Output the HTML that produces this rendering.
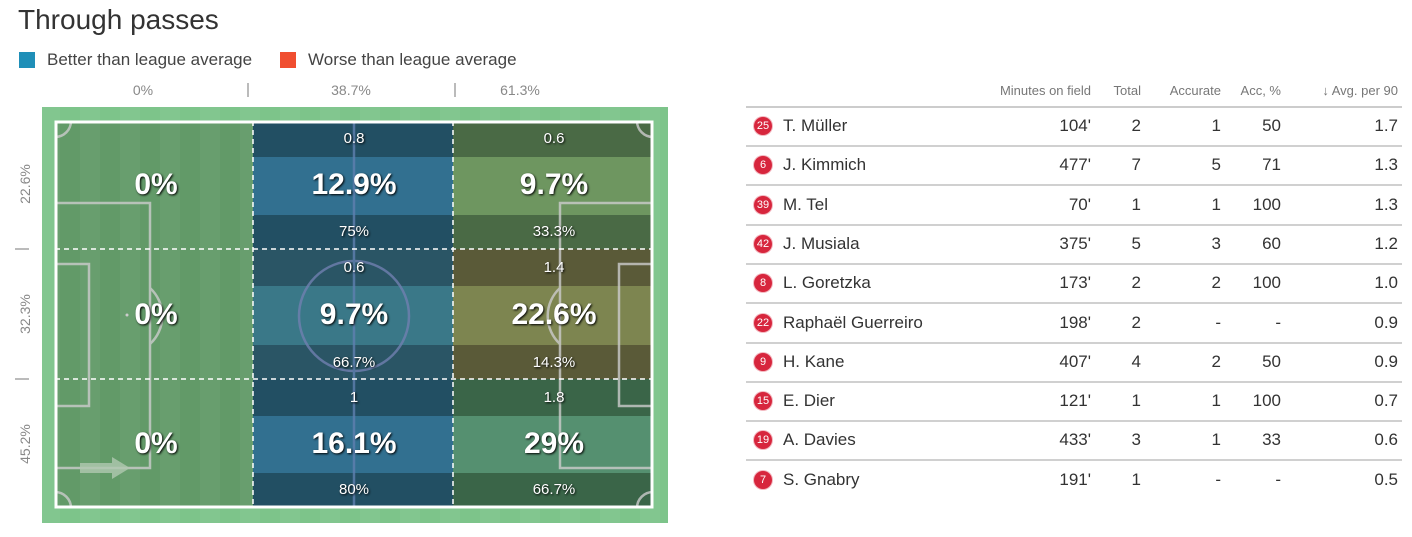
<!DOCTYPE html>
<html><head><meta charset="utf-8"><style>
body{margin:0;width:1412px;height:537px;background:#fff;font-family:"Liberation Sans",sans-serif;position:relative;overflow:hidden}
.a{position:absolute}
.n{font-family:"Liberation Sans Narrow","Liberation Sans",sans-serif}
.t{color:#fff;font-weight:bold;text-shadow:1px 1px 2px #000;text-align:center;width:200px;font-family:"Liberation Sans Narrow","Liberation Sans",sans-serif}
.hd{font-size:13px;color:#777;text-align:right;font-family:"Liberation Sans Narrow","Liberation Sans",sans-serif}
.c{font-size:17px;color:#333;text-align:right;font-family:"Liberation Sans Narrow","Liberation Sans",sans-serif}
.b{width:18px;height:18px;border-radius:50%;background:#d7263d;color:#fff;font-size:11px;text-align:center;line-height:18px;box-shadow:0 0 0 1px #f3b8c0;font-family:"Liberation Sans Narrow","Liberation Sans",sans-serif}
</style></head><body>
<div class="a" style="left:18px;top:4px;font-size:28px;color:#333">Through passes</div>
<div class="a" style="left:19px;top:52px;width:16px;height:16px;background:#1f8fb8"></div>
<div class="a" style="left:47px;top:50px;font-size:17px;color:#444">Better than league average</div>
<div class="a" style="left:280px;top:52px;width:16px;height:16px;background:#f04e30"></div>
<div class="a" style="left:308px;top:50px;font-size:17px;color:#444">Worse than league average</div>
<div class="a n" style="left:103px;top:82px;width:80px;text-align:center;font-size:14px;color:#888">0%</div>
<div class="a n" style="left:311px;top:82px;width:80px;text-align:center;font-size:14px;color:#888">38.7%</div>
<div class="a n" style="left:480px;top:82px;width:80px;text-align:center;font-size:14px;color:#888">61.3%</div>
<div class="a" style="left:247px;top:83px;width:2px;height:14px;background:#bbb"></div>
<div class="a" style="left:454px;top:83px;width:2px;height:14px;background:#bbb"></div>
<div class="a" style="left:15px;top:248px;width:14px;height:2px;background:#bbb"></div>
<div class="a" style="left:15px;top:378px;width:14px;height:2px;background:#bbb"></div>
<div class="a n" style="left:0;top:176px;width:50px;text-align:center;font-size:14px;color:#888;transform:rotate(-90deg)">22.6%</div>
<div class="a n" style="left:0;top:306px;width:50px;text-align:center;font-size:14px;color:#888;transform:rotate(-90deg)">32.3%</div>
<div class="a n" style="left:0;top:436px;width:50px;text-align:center;font-size:14px;color:#888;transform:rotate(-90deg)">45.2%</div>
<svg class="a" style="left:0;top:0" width="680" height="537">
<defs><pattern id="st" width="40" height="10" patternUnits="userSpaceOnUse"><rect width="20" height="10" fill="#fff" opacity="0.04"/></pattern></defs>
<rect x="42" y="107" width="626" height="416" fill="#7dc48a"/>
<rect x="55" y="121" width="598" height="387" fill="#629a68"/>
<rect x="42" y="107" width="626" height="416" fill="url(#st)"/>
<g>
<rect x="253" y="121" width="200" height="387" fill="#224f63"/>
<rect x="253" y="157" width="200" height="58" fill="#327090"/>
<rect x="253" y="249" width="200" height="130" fill="#2a5565"/>
<rect x="253" y="286" width="200" height="59" fill="#3a7888"/>
<rect x="253" y="416" width="200" height="57" fill="#327090"/>
<rect x="453" y="121" width="200" height="128" fill="#4a6a45"/>
<rect x="453" y="157" width="200" height="58" fill="#6e9660"/>
<rect x="453" y="249" width="200" height="130" fill="#5a5a38"/>
<rect x="453" y="286" width="200" height="59" fill="#7d8550"/>
<rect x="453" y="379" width="200" height="129" fill="#3a6548"/>
<rect x="453" y="416" width="200" height="57" fill="#559070"/>
</g>
<g fill="none" stroke="#ccc" stroke-width="2.5" opacity="0.8">
<path d="M55 203H150V468H55"/><path d="M55 264H89V406H55"/>
<path d="M150 288A38 38 0 0 1 150 344"/>
<path d="M653 203H560V468H653"/><path d="M653 264H619V406H653"/>
<path d="M560 288A38 38 0 0 0 560 344"/>
<circle cx="354" cy="316" r="55" stroke="#7080b0"/>
<line x1="354" y1="121" x2="354" y2="508" stroke="#6080b0"/>
<path d="M55 137A16 16 0 0 0 71 121M637 121A16 16 0 0 0 653 137M55 492A16 16 0 0 1 71 508M637 508A16 16 0 0 1 653 492"/>
</g>
<circle cx="127" cy="315" r="1.5" fill="#ccc"/>
<path d="M80 463H112V457L130 468L112 479V473H80Z" fill="#b0c8b0" opacity="0.8"/>
<rect x="56" y="122" width="596" height="385" fill="none" stroke="#fff" stroke-width="3"/>
<g stroke="#fff" stroke-width="1.5" stroke-dasharray="5,4"><line x1="253" y1="121" x2="253" y2="508"/><line x1="453" y1="121" x2="453" y2="508"/><line x1="55" y1="249" x2="653" y2="249"/><line x1="55" y1="379" x2="653" y2="379"/></g>
</svg>
<div class="a t" style="left:56px;top:168px;font-size:30px">0%</div>
<div class="a t" style="left:56px;top:298px;font-size:30px">0%</div>
<div class="a t" style="left:56px;top:427px;font-size:30px">0%</div>
<div class="a t" style="left:254px;top:130px;font-size:15px;font-weight:normal">0.8</div>
<div class="a t" style="left:254px;top:168px;font-size:30px">12.9%</div>
<div class="a t" style="left:254px;top:223px;font-size:15px;font-weight:normal">75%</div>
<div class="a t" style="left:254px;top:259px;font-size:15px;font-weight:normal">0.6</div>
<div class="a t" style="left:254px;top:298px;font-size:30px">9.7%</div>
<div class="a t" style="left:254px;top:354px;font-size:15px;font-weight:normal">66.7%</div>
<div class="a t" style="left:254px;top:389px;font-size:15px;font-weight:normal">1</div>
<div class="a t" style="left:254px;top:427px;font-size:30px">16.1%</div>
<div class="a t" style="left:254px;top:481px;font-size:15px;font-weight:normal">80%</div>
<div class="a t" style="left:454px;top:130px;font-size:15px;font-weight:normal">0.6</div>
<div class="a t" style="left:454px;top:168px;font-size:30px">9.7%</div>
<div class="a t" style="left:454px;top:223px;font-size:15px;font-weight:normal">33.3%</div>
<div class="a t" style="left:454px;top:259px;font-size:15px;font-weight:normal">1.4</div>
<div class="a t" style="left:454px;top:298px;font-size:30px">22.6%</div>
<div class="a t" style="left:454px;top:354px;font-size:15px;font-weight:normal">14.3%</div>
<div class="a t" style="left:454px;top:389px;font-size:15px;font-weight:normal">1.8</div>
<div class="a t" style="left:454px;top:427px;font-size:30px">29%</div>
<div class="a t" style="left:454px;top:481px;font-size:15px;font-weight:normal">66.7%</div>

<div class="a hd" style="left:961px;top:83px;width:130px">Minutes on field</div>
<div class="a hd" style="left:1091px;top:83px;width:50px">Total</div>
<div class="a hd" style="left:1141px;top:83px;width:80px">Accurate</div>
<div class="a hd" style="left:1221px;top:83px;width:60px">Acc, %</div>
<div class="a hd" style="left:1281px;top:83px;width:117px">↓ Avg. per 90</div>
<div class="a" style="left:746px;top:106px;width:656px;height:2px;background:#ccc"></div>
<div id="rows"></div>
<script>
var d=[["25","T. Müller","104'","2","1","50","1.7"],["6","J. Kimmich","477'","7","5","71","1.3"],["39","M. Tel","70'","1","1","100","1.3"],["42","J. Musiala","375'","5","3","60","1.2"],["8","L. Goretzka","173'","2","2","100","1.0"],["22","Raphaël Guerreiro","198'","2","-","-","0.9"],["9","H. Kane","407'","4","2","50","0.9"],["15","E. Dier","121'","1","1","100","0.7"],["19","A. Davies","433'","3","1","33","0.6"],["7","S. Gnabry","191'","1","-","-","0.5"]];
var h="";d.forEach(function(r,i){var y=126+i*39.3;
h+='<div class="a b" style="left:754px;top:'+(y-9)+'px">'+r[0]+'</div>';
h+='<div class="a c" style="left:783px;top:'+(y-10)+'px;text-align:left">'+r[1]+'</div>';
var cs=[[961,130],[1091,50],[1141,80],[1221,60],[1281,117]];
for(var k=0;k<5;k++)h+='<div class="a c" style="left:'+cs[k][0]+'px;top:'+(y-10)+'px;width:'+cs[k][1]+'px">'+r[k+2]+'</div>';
if(i<9)h+='<div class="a" style="left:746px;top:'+(y+19)+'px;width:656px;height:2px;background:#d0d0d0"></div>';});
document.getElementById("rows").innerHTML=h;
</script>
</body></html>
